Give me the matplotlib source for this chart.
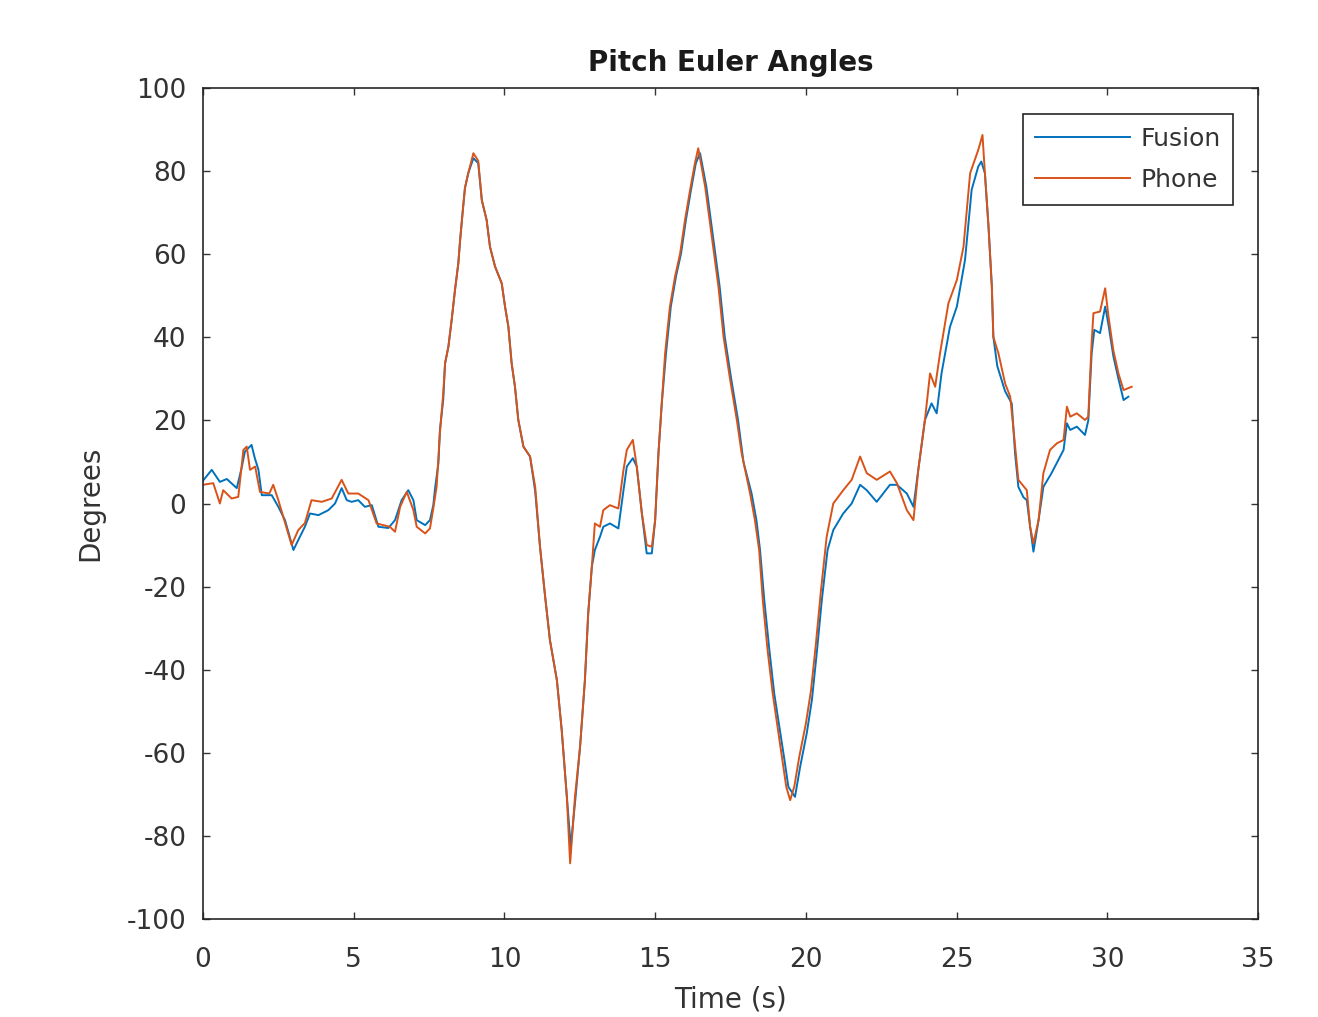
import matplotlib
matplotlib.use("Agg")
import matplotlib.pyplot as plt

title = "Pitch Euler Angles"
xlabel = "Time (s)"
ylabel = "Degrees"
series_names = ["Fusion", "Phone"]
xticks = [0, 5, 10, 15, 20, 25, 30, 35]
yticks = [-100, -80, -60, -40, -20, 0, 20, 40, 60, 80, 100]

fusion_t = [0.0, 0.29, 0.56, 0.79, 1.12, 1.28, 1.39, 1.61, 1.72, 1.84, 1.95, 2.28, 2.5, 2.72, 3.0,
            3.16, 3.38, 3.55, 3.83, 4.16, 4.38, 4.6, 4.77, 4.93, 5.15, 5.37, 5.6, 5.82, 6.15, 6.37,
            6.59, 6.81, 6.98, 7.09, 7.37, 7.53, 7.64, 7.7, 7.81, 7.86, 7.97, 8.03, 8.14, 8.25, 8.36,
            8.47, 8.53, 8.62, 8.69, 8.8, 8.97, 9.13, 9.25, 9.41, 9.52, 9.69, 9.91, 10.02, 10.13,
            10.24, 10.35, 10.46, 10.63, 10.85, 11.02, 11.18, 11.35, 11.51, 11.74, 11.9, 12.07, 12.2,
            12.36, 12.51, 12.67, 12.78, 12.9, 13.0, 13.17, 13.28, 13.5, 13.78, 13.95, 14.06, 14.26,
            14.39, 14.56, 14.72, 14.89, 15.0, 15.11, 15.22, 15.36, 15.52, 15.69, 15.86, 16.02, 16.19,
            16.35, 16.49, 16.7, 16.92, 17.14, 17.31, 17.53, 17.75, 17.93, 18.2, 18.36, 18.48, 18.62,
            18.79, 18.95, 19.12, 19.29, 19.42, 19.64, 19.81, 20.03, 20.2, 20.36, 20.53, 20.72, 20.91,
            21.24, 21.52, 21.8, 22.02, 22.35, 22.79, 23.02, 23.35, 23.57, 23.73, 23.95, 24.17, 24.34,
            24.5, 24.78, 25.01, 25.28, 25.5, 25.72, 25.82, 25.94, 26.06, 26.17, 26.22, 26.35, 26.61,
            26.83, 26.94, 27.05, 27.22, 27.33, 27.44, 27.55, 27.72, 27.88, 28.15, 28.38, 28.55, 28.66,
            28.77, 28.99, 29.26, 29.37, 29.48, 29.57, 29.76, 29.93, 30.04, 30.2, 30.37, 30.54, 30.7]
fusion_deg = [5.5, 8.1, 5.2, 5.9, 3.7, 8.5, 12.5, 14.1, 10.9, 8.1, 2.0, 2.0, -0.8, -4.0, -11.2,
              -8.8, -5.6, -2.4, -2.8, -1.6, 0.0, 3.7, 0.8, 0.4, 0.8, -0.8, -0.4, -5.6, -5.9, -4.0,
              0.8, 3.2, 0.8, -4.0, -5.2, -4.0, -0.4, 3.7, 9.7, 17.7, 25.0, 33.7, 37.7, 44.2, 51.4,
              57.8, 63.4, 70.6, 75.9, 79.5, 83.1, 81.9, 73.0, 68.2, 61.8, 57.0, 53.0, 47.4, 42.6,
              33.7, 28.1, 20.1, 13.7, 11.3, 3.0, -10.4, -22.4, -32.9, -42.5, -54.5, -70.6, -82.6,
              -70.6, -58.5, -42.5, -26.4, -15.2, -11.2, -8.0, -5.6, -4.8, -6.0, 3.2, 8.9, 10.9,
              8.9, -2.4, -12.0, -12.0, -4.0, 12.1, 24.1, 36.1, 47.4, 54.6, 60.2, 68.2, 75.5,
              81.9, 84.3, 76.2, 64.2, 52.2, 40.1, 29.7, 20.1, 10.0, 2.4, -4.0, -11.2, -23.2,
              -35.3, -45.7, -53.7, -61.7, -68.2, -70.6, -63.4, -55.3, -47.3, -36.1, -23.2, -11.2, -6.4,
              -2.4, 0.0, 4.5, 3.2, 0.4, 4.5, 4.5, 2.4, -0.8, 8.1, 20.1, 24.1, 21.7,
              31.3, 42.5, 47.4, 58.6, 75.5, 81.1, 82.3, 79.5, 66.6, 52.2, 40.1, 33.1, 27.0,
              24.1, 12.1, 4.0, 1.5, 0.8, -5.6, -11.6, -4.0, 4.0, 7.3, 10.5, 12.9, 19.3,
              17.7, 18.5, 16.5, 20.0, 36.0, 41.8, 41.0, 47.4, 43.0, 35.5, 30.0, 24.9, 25.7]

phone_t = [0.0, 0.34, 0.56, 0.67, 0.95, 1.17, 1.34, 1.45, 1.56, 1.73, 1.89, 2.2, 2.33, 2.5, 2.94,
           3.16, 3.38, 3.6, 3.94, 4.27, 4.6, 4.82, 5.15, 5.49, 5.76, 6.2, 6.37, 6.54, 6.76, 6.98,
           7.09, 7.37, 7.53, 7.64, 7.75, 7.86, 7.97, 8.03, 8.14, 8.25, 8.36, 8.47, 8.53, 8.62, 8.69,
           8.8, 8.97, 9.13, 9.25, 9.41, 9.52, 9.69, 9.91, 10.02, 10.13, 10.24, 10.35, 10.46, 10.63,
           10.85, 11.02, 11.18, 11.35, 11.51, 11.74, 11.9, 12.07, 12.18, 12.34, 12.51, 12.67, 12.78,
           12.9, 13.0, 13.17, 13.28, 13.5, 13.78, 13.95, 14.06, 14.26, 14.39, 14.56, 14.72, 14.89,
           15.0, 15.11, 15.22, 15.33, 15.49, 15.66, 15.83, 15.99, 16.16, 16.32, 16.43, 16.66, 16.88,
           17.1, 17.27, 17.49, 17.71, 17.87, 18.15, 18.31, 18.45, 18.57, 18.73, 18.9, 19.06, 19.22,
           19.35, 19.48, 19.62, 19.78, 20.0, 20.17, 20.33, 20.5, 20.69, 20.91, 21.24, 21.52, 21.8,
           22.02, 22.35, 22.79, 23.02, 23.35, 23.57, 23.73, 23.95, 24.12, 24.29, 24.45, 24.73, 25.01,
           25.23, 25.45, 25.72, 25.86, 25.94, 26.06, 26.17, 26.22, 26.39, 26.61, 26.78, 26.88, 27.05,
           27.33, 27.44, 27.55, 27.72, 27.88, 28.1, 28.33, 28.55, 28.66, 28.77, 28.99, 29.26, 29.37,
           29.48, 29.54, 29.76, 29.93, 30.04, 30.2, 30.37, 30.54, 30.81]
phone_deg = [4.5, 4.9, 0.0, 3.2, 1.2, 1.6, 12.9, 13.7, 8.1, 8.9, 2.8, 2.4, 4.5, 0.8, -10.0,
             -6.4, -4.7, 0.8, 0.4, 1.2, 5.7, 2.4, 2.4, 0.8, -4.8, -5.6, -6.8, -0.8, 2.8, -1.6,
             -5.6, -7.2, -6.0, -1.2, 4.0, 17.0, 26.5, 33.7, 37.7, 44.2, 51.4, 57.8, 63.4, 70.6, 75.9,
             79.5, 84.3, 82.5, 73.0, 68.2, 61.8, 57.0, 53.0, 47.4, 42.6, 33.7, 28.1, 20.1, 13.7,
             11.3, 4.0, -10.4, -22.4, -32.9, -42.5, -54.5, -70.6, -86.6, -70.6, -58.5, -42.5, -26.4,
             -15.2, -4.8, -5.6, -1.6, -0.4, -1.2, 8.1, 12.9, 15.3, 8.9, -2.4, -10.0, -10.4,
             -4.0, 12.1, 24.1, 36.1, 47.4, 54.6, 60.2, 68.2, 75.5, 81.9, 85.5, 76.2, 64.2,
             52.2, 40.1, 29.7, 20.1, 12.1, 2.4, -4.0, -11.2, -23.2, -35.3, -45.7, -53.7, -61.7,
             -68.2, -71.4, -68.0, -61.0, -53.0, -45.0, -34.0, -21.0, -8.0, 0.0, 3.2, 5.7, 11.3,
             7.3, 5.7, 7.7, 4.9, -1.6, -4.0, 8.1, 20.1, 31.3, 28.1, 36.1, 48.2, 53.8,
             61.8, 79.5, 85.1, 88.7, 79.5, 66.6, 52.2, 40.1, 36.1, 28.9, 25.7, 18.5, 5.7,
             3.2, -5.6, -9.6, -4.0, 7.3, 12.9, 14.5, 15.3, 23.3, 20.9, 21.7, 20.1, 20.9,
             38.6, 45.8, 46.2, 51.8, 45.0, 36.9, 31.3, 27.3, 28.1]

plt.rcParams['font.family'] = ['DejaVu Sans']
plt.rcParams['axes.unicode_minus'] = False
fig = plt.figure(figsize=(13.18, 10.17), dpi=100)
ax = fig.add_axes([203/1318, 1 - 919/1017, (1258-203)/1318, (919-88)/1017])

ax.plot(fusion_t, fusion_deg, color='#0072BD', lw=1.4, label=series_names[0])
ax.plot(phone_t, phone_deg, color='#D95319', lw=1.4, label=series_names[1])

ax.set_xlim(0, 35)
ax.set_ylim(-100, 100)
ax.set_xticks(xticks)
ax.set_yticks(yticks)
ax.tick_params(direction='in', length=5, width=1, top=True, right=True,
               labelsize=19, colors='#333333')
ax.tick_params(axis='x', pad=20)
ax.tick_params(axis='y', pad=12)
for s in ax.spines.values():
    s.set_color('#262626')
    s.set_linewidth(1.2)

ax.set_title(title, fontsize=20, fontweight='bold', color='#1a1a1a', pad=12)
ax.set_xlabel(xlabel, fontsize=20, color='#333333', labelpad=9)
ax.set_ylabel(ylabel, fontsize=20, color='#333333', labelpad=16)

leg = ax.legend(loc='upper right', bbox_to_anchor=((1233-203)/1055, (919-114)/831),
                borderaxespad=0, fontsize=18, handlelength=3.8, fancybox=False,
                framealpha=1, edgecolor='#262626', labelspacing=0.7, handletextpad=0.4,
                borderpad=0.5)
leg.get_frame().set_linewidth(1.2)
for t in leg.get_texts():
    t.set_color('#333333')

fig.savefig('out.png', dpi=100)
